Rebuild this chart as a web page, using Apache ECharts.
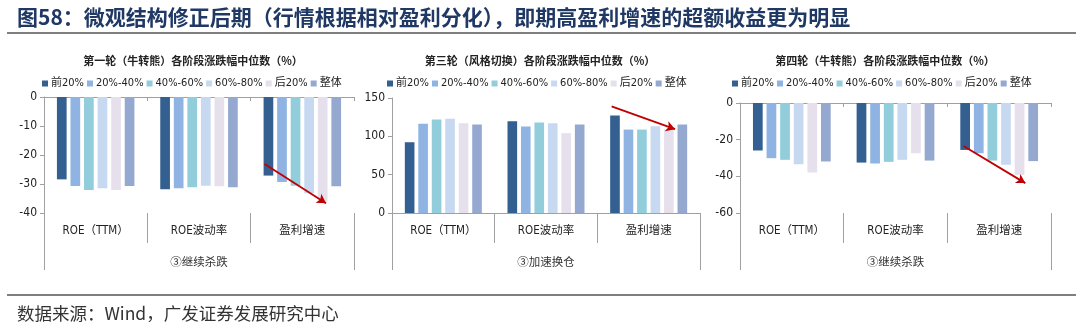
<!DOCTYPE html>
<html>
<head>
<meta charset="utf-8">
<script src="https://cdn.jsdelivr.net/npm/echarts@6/dist/echarts.min.js"></script>
<style>
html,body{margin:0;padding:0;background:#fff;}
#chart{width:1080px;height:326px;}
</style>
</head>
<body>
<div id="chart"></div>
<script>
// ---------- data ----------
var categories = ['ROE（TTM）', 'ROE波动率', '盈利增速'];
var seriesNames = ['前20%', '20%-40%', '40%-60%', '60%-80%', '后20%', '整体'];
var panelTitles = ['第一轮（牛转熊）各阶段涨跌幅中位数（%）', '第三轮（风格切换）各阶段涨跌幅中位数（%）', '第四轮（牛转熊）各阶段涨跌幅中位数（%）'];
var groupLabels = ['③继续杀跌', '③加速换仓', '③继续杀跌'];
// values per series (rows follow seriesNames), columns follow categories
var round1 = [
  [-28.4, -31.8, -27.1],
  [-30.7, -31.5, -29.3],
  [-32.1, -31.1, -30.6],
  [-31.5, -30.6, -33.2],
  [-32.1, -30.8, -36.1],
  [-30.7, -31.1, -30.8]
];
var round3 = [
  [92.3, 119.8, 127.2],
  [116.3, 112.8, 108.8],
  [122.0, 118.0, 108.8],
  [122.8, 117.2, 113.3],
  [117.2, 104.1, 109.3],
  [115.4, 115.4, 115.4]
];
var round4 = [
  [-25.9, -32.5, -25.6],
  [-30.1, -33.0, -27.4],
  [-31.0, -32.1, -31.4],
  [-33.4, -31.0, -33.7],
  [-37.9, -27.4, -39.2],
  [-31.9, -31.4, -31.7]
];
// y-axis ranges (tick labels)
var yMins = [-40, 0, -60];
var yMaxs = [0, 150, 0];
var yIntervals = [10, 50, 20];
// arrow annotations in data space (x: 0..3 across the three categories)
var arrows = [
  [[2.135, -23.1], [2.729, -36.6]],
  [[2.139, 139.2], [2.757, 109.3]],
  [[2.156, -23.4], [2.752, -43.7]]
];

// ---------- styles / layout ----------
var colors = ['#335f91', '#8fb4e3', '#92cddc', '#c6d9f1', '#e6e0ec', '#95a9d0'];
var latin = "'Liberation Sans Narrow','Arial Narrow','DejaVu Sans Condensed','Liberation Sans','Noto Sans CJK SC'";
var cjk = "'Noto Sans CJK SC'";
var gray = '#a0a0a0';
var grids = [
  {left: 44, top: 97, width: 310, height: 116},
  {left: 392, top: 98, width: 308, height: 115},
  {left: 740, top: 103, width: 311, height: 110}
];
var legendLefts = [42, 387, 732];
var titleCenters = [193, 540, 885];
var datasets = [round1, round3, round4];

var option = {
  animation: false,
  backgroundColor: '#fff',
  grid: grids.map(function (g) { return Object.assign({containLabel: false}, g); }),
  legend: [],
  xAxis: [],
  yAxis: [],
  series: [],
  graphic: []
};

for (var p = 0; p < 3; p++) {
  var topLine = yMaxs[p] === 0;
  // axis A: zero line with small ticks
  option.xAxis.push({
    type: 'category', gridIndex: p, data: categories,
    position: topLine ? 'top' : 'bottom',
    axisLine: {show: true, onZero: false, lineStyle: {color: gray, width: 1}},
    axisTick: {show: true, inside: topLine, length: 4, lineStyle: {color: gray}},
    axisLabel: {show: false}, splitLine: {show: false}
  });
  // axis B: category labels and separators
  option.xAxis.push({
    type: 'category', gridIndex: p, data: categories, position: 'bottom',
    axisLine: {show: false, onZero: false},
    axisTick: {show: true, length: 30, lineStyle: {color: gray}},
    axisLabel: {show: true, margin: 12, fontSize: 11.5, color: '#222', fontFamily: latin, interval: 0},
    splitLine: {show: false}
  });
  // axis C: outer frame ticks, group label, arrow coordinates
  option.xAxis.push({
    type: 'value', gridIndex: p, min: 0, max: 3, interval: 3, position: 'bottom',
    axisLine: {show: false, onZero: false},
    axisTick: {show: true, length: 57, lineStyle: {color: gray}},
    axisLabel: {show: false}, splitLine: {show: false},
    name: groupLabels[p], nameLocation: 'middle', nameGap: 43,
    nameTextStyle: {fontSize: 11.5, color: '#333', fontFamily: cjk}
  });
  option.yAxis.push({
    type: 'value', gridIndex: p, min: yMins[p], max: yMaxs[p], interval: yIntervals[p],
    axisLine: {show: true, onZero: false, lineStyle: {color: gray}},
    axisTick: {show: true, length: 4, lineStyle: {color: gray}},
    axisLabel: {margin: 7, fontSize: 12, color: '#222', fontFamily: latin},
    splitLine: {show: false}
  });
  option.legend.push({
    left: legendLefts[p], top: 78, padding: 0, itemGap: 3,
    itemWidth: 6, itemHeight: 6, icon: 'rect',
    data: seriesNames.slice(),
    textStyle: {fontSize: 11, color: '#222', fontFamily: latin, padding: [0, 0, 0, -2]}
  });
  for (var s = 0; s < seriesNames.length; s++) {
    option.series.push({
      type: 'bar', name: seriesNames[s],
      xAxisIndex: p * 3 + 1, yAxisIndex: p,
      data: datasets[p][s],
      itemStyle: {color: colors[s]},
      barCategoryGap: '25%', barGap: '40%'
    });
  }
  option.series.push({
    type: 'line', name: 'arrow' + p,
    xAxisIndex: p * 3 + 2, yAxisIndex: p,
    data: arrows[p],
    showSymbol: false, silent: true,
    lineStyle: {opacity: 0},
    markLine: {
      silent: true, symbol: ['none', 'arrow'], symbolSize: [8, 9],
      label: {show: false},
      lineStyle: {color: '#c00000', width: 1.8, type: 'solid'},
      data: [[{coord: arrows[p][0]}, {coord: arrows[p][1]}]]
    }
  });
  option.graphic.push({
    type: 'text', x: titleCenters[p], y: 61,
    style: {text: panelTitles[p], textAlign: 'center', textVerticalAlign: 'middle',
      font: 'bold 11px ' + cjk, fill: '#222'}
  });
}

option.graphic.push(
  {type: 'text', x: 17, y: 17,
   style: {text: '图58：微观结构修正后期（行情根据相对盈利分化），即期高盈利增速的超额收益更为明显',
     textVerticalAlign: 'middle', font: 'bold 21px ' + cjk, fill: '#1f3864'}},
  {type: 'line', shape: {x1: 7, y1: 33, x2: 1076, y2: 33}, style: {stroke: '#555', lineWidth: 1.5}},
  {type: 'line', shape: {x1: 7, y1: 295, x2: 1076, y2: 295}, style: {stroke: '#555', lineWidth: 1.5}},
  {type: 'text', x: 17, y: 313,
   style: {text: '数据来源：Wind，广发证券发展研究中心', textVerticalAlign: 'middle',
     font: '17.5px ' + cjk, fill: '#333'}}
);

var chart = echarts.init(document.getElementById('chart'), null, {renderer: 'canvas'});
chart.setOption(option);
</script>
</body>
</html>
